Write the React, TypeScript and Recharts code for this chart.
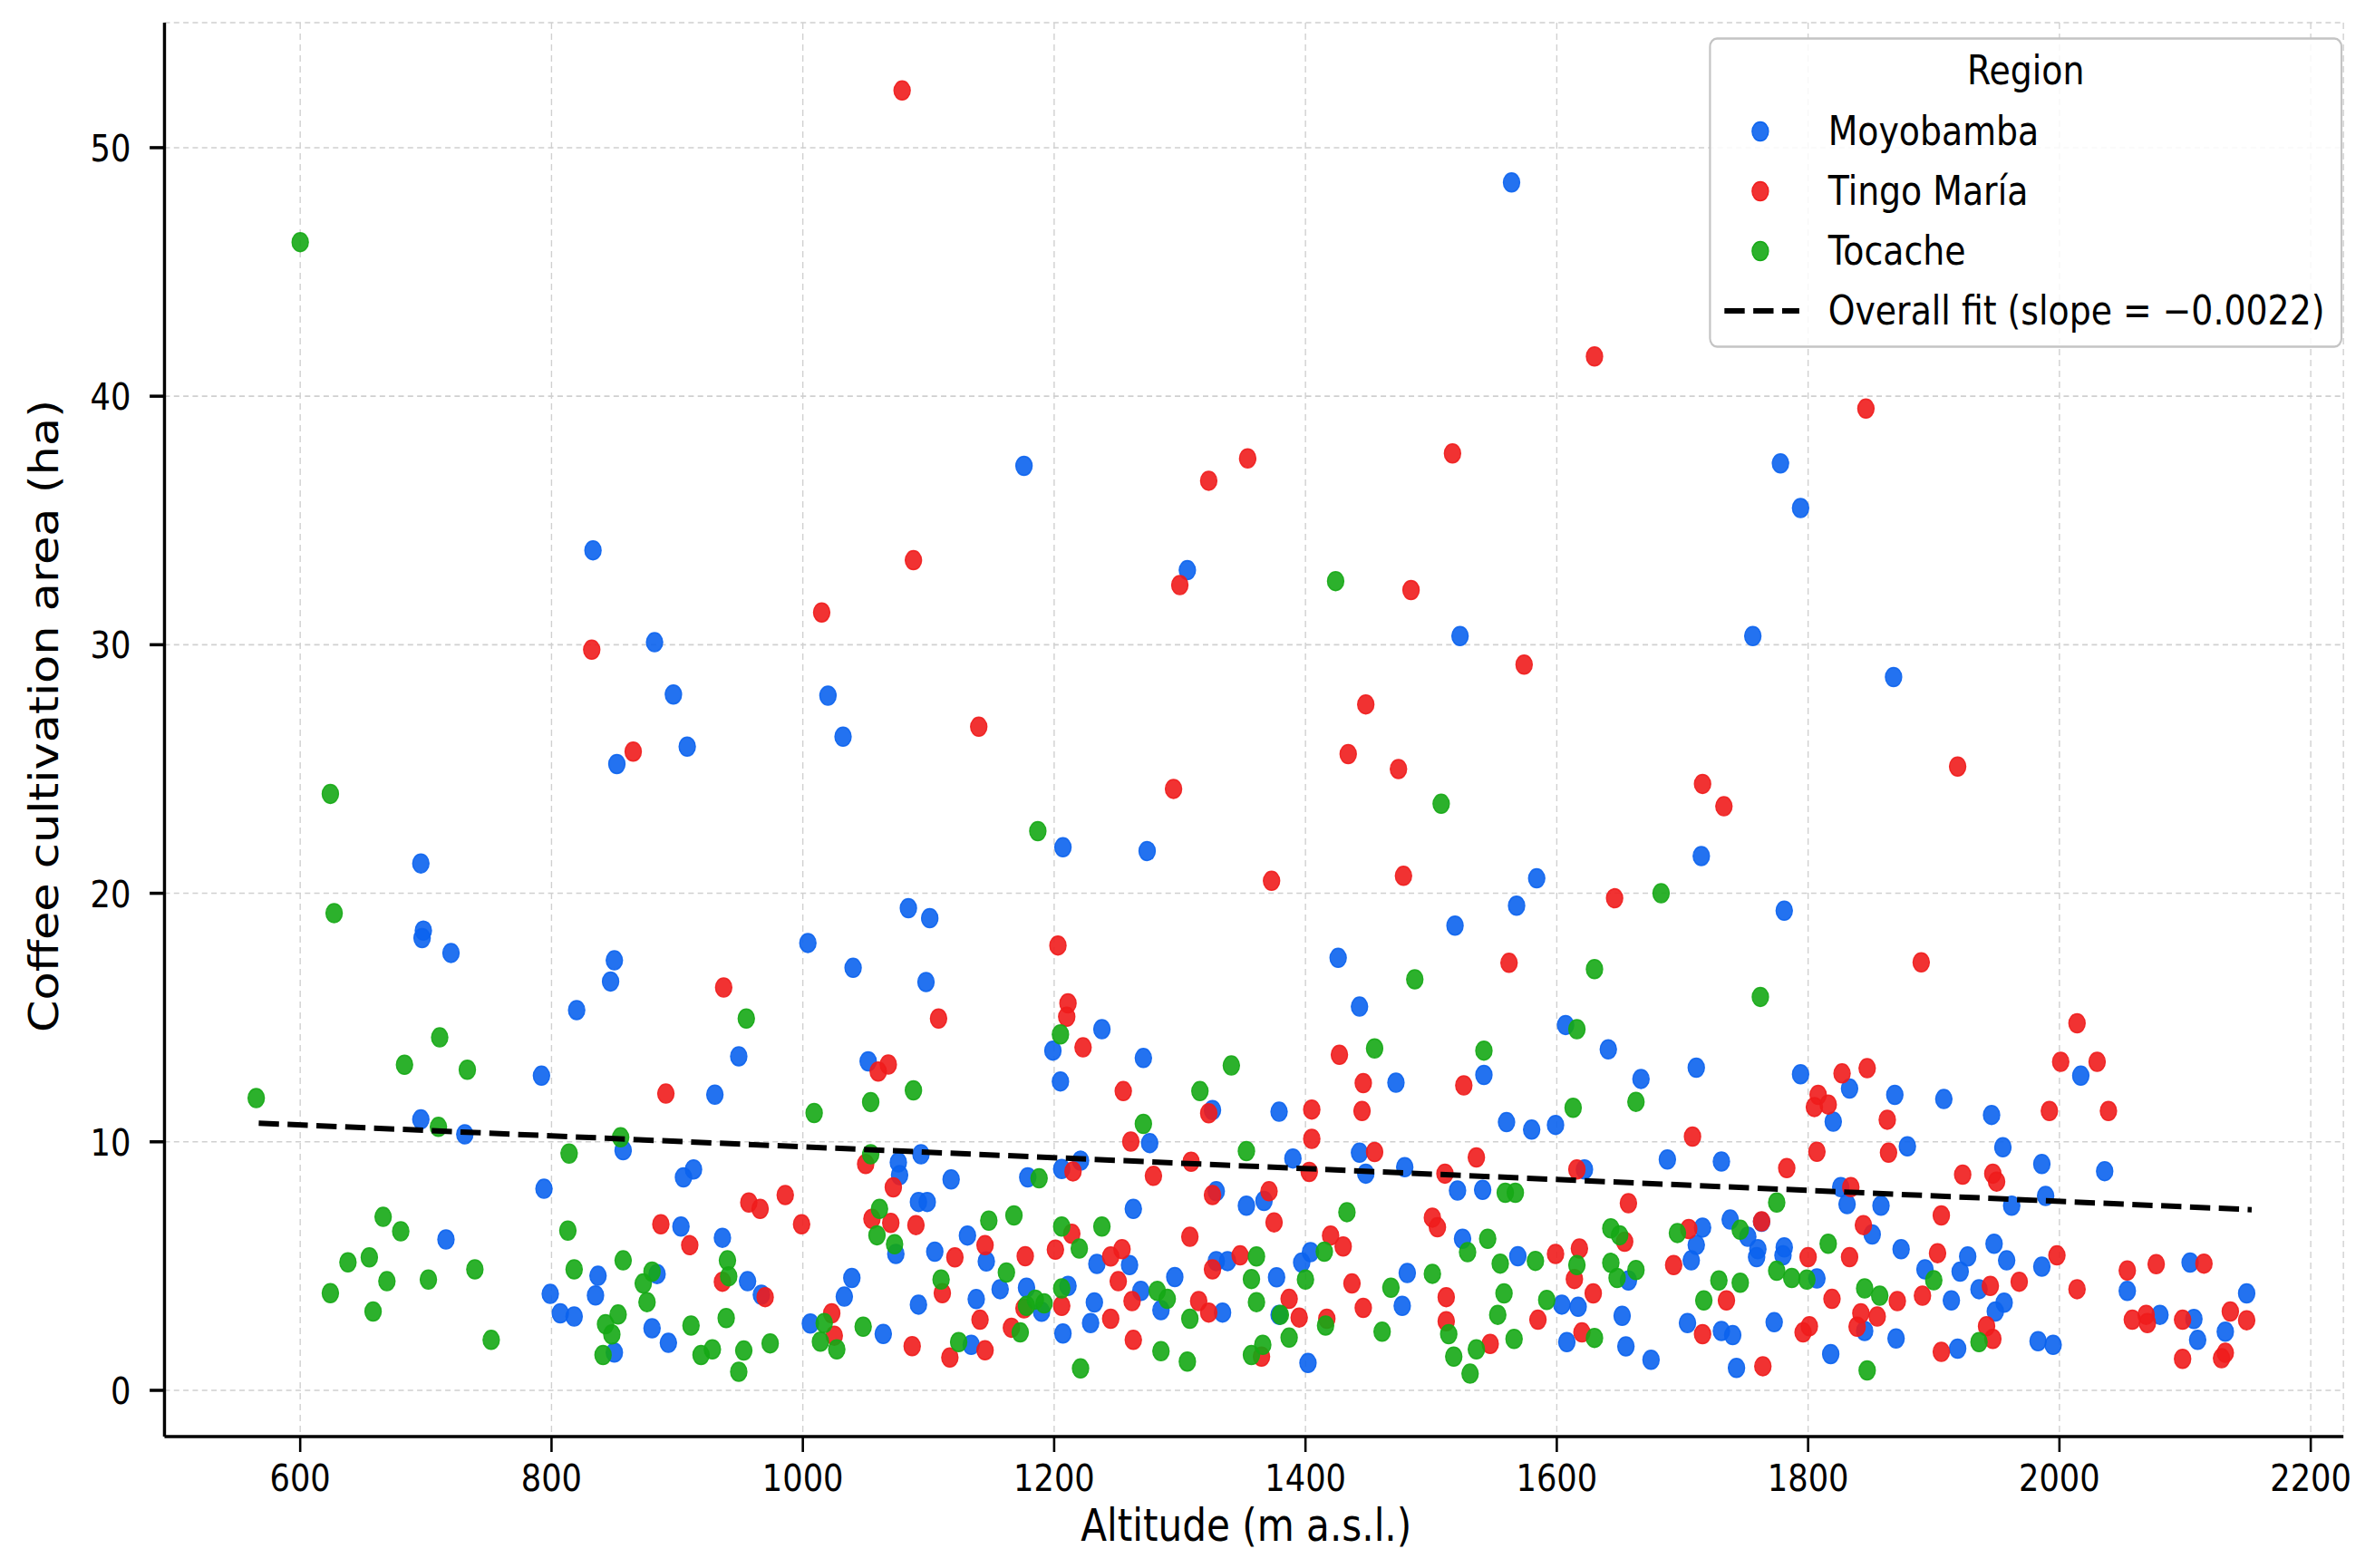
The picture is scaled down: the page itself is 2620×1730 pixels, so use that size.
import React from "react";
import { ScatterChart, Scatter, XAxis, YAxis, CartesianGrid, Legend } from "recharts";

// Altitude vs coffee cultivation area, three regions + an overall OLS fit.
// The reference is a matplotlib figure that was squeezed horizontally, so the
// chart is laid out at full width and then compressed with scaleX(SQUEEZE).

const X_TICKS = [600, 800, 1000, 1200, 1400, 1600, 1800, 2000, 2200];
const Y_TICKS = [0, 10, 20, 30, 40, 50];
const X_DOMAIN: [number, number] = [492, 2226];
const Y_DOMAIN: [number, number] = [-1.86, 55.03];

// [altitude m a.s.l., area ha]
const MOYOBAMBA: [number, number][] = [
  [1564, 48.6], [1176, 37.2], [1778, 37.3], [1794, 35.5], [833, 33.8], [1306, 33.0], [882, 30.1],
  [1523, 30.35], [1756, 30.35], [897, 28.0], [1020, 27.95], [1868, 28.7], [908, 25.9], [852, 25.2],
  [1032, 26.3], [1207, 21.85], [1274, 21.7], [1715, 21.5], [696, 21.2], [1584, 20.6], [1568, 19.5],
  [1084, 19.4], [1101, 19.0], [1781, 19.3], [1519, 18.7], [698, 18.5], [697, 18.2], [720, 17.6],
  [1004, 18.0], [696, 10.9], [731, 10.3], [716, 6.07],
  [850, 17.3], [847, 16.45], [820, 15.3], [949, 13.44], [792, 12.66], [930, 11.9], [1040, 17.0],
  [1098, 16.43], [1052, 13.24], [857, 9.66], [913, 8.89], [905, 8.57], [794, 8.11], [1076, 9.17],
  [1077, 8.66], [1094, 9.5], [1118, 8.49], [1092, 7.58], [1099, 7.58], [903, 6.59], [936, 6.14],
  [1074, 5.49], [837, 4.61], [884, 4.68], [799, 3.88], [835, 3.82], [807, 3.1], [818, 2.97],
  [880, 2.5], [893, 1.91], [850, 1.52], [956, 4.39], [967, 3.85], [1039, 4.52], [1033, 3.77],
  [1006, 2.69], [1064, 2.27], [1105, 5.58], [1131, 6.23], [1146, 5.19], [1179, 8.57], [1092, 3.45],
  [1138, 3.67], [1157, 4.07], [1178, 4.13], [1134, 1.83], [1190, 3.16],
  [1199, 13.67], [1238, 14.53], [1271, 13.37], [1205, 12.43], [1326, 11.28], [1379, 11.21],
  [1276, 9.95], [1390, 9.33], [1206, 8.91], [1221, 9.24], [1329, 8.01], [1353, 7.43], [1367, 7.62],
  [1263, 7.3], [1234, 5.09], [1260, 5.04], [1329, 5.2], [1338, 5.2], [1397, 5.14], [1404, 5.56],
  [1296, 4.56], [1377, 4.55], [1211, 4.2], [1232, 3.54], [1269, 4.0], [1285, 3.23], [1334, 3.13],
  [1379, 3.04], [1229, 2.71], [1207, 2.29], [1402, 1.1], [1426, 17.4], [1443, 15.44], [1472, 12.38],
  [1542, 12.69], [1560, 10.79], [1580, 10.49], [1443, 9.56], [1448, 8.72], [1479, 8.98], [1521, 8.04],
  [1541, 8.07], [1525, 6.1], [1569, 5.4], [1481, 4.72], [1477, 3.4],
  [1607, 14.7], [1641, 13.72], [1711, 12.98], [1667, 12.53], [1599, 10.68], [1794, 12.72],
  [1833, 12.14], [1820, 10.81], [1869, 11.89], [1908, 11.72], [1946, 11.08], [1879, 9.82],
  [1955, 9.78], [1986, 9.11], [1688, 9.29], [1731, 9.21], [1622, 8.89], [1826, 8.18], [1831, 7.49],
  [1858, 7.43], [1989, 7.82], [1962, 7.43], [1851, 6.27], [1657, 4.42], [1604, 3.45], [1617, 3.36],
  [1608, 1.94], [1652, 3.0], [1655, 1.77], [1675, 1.23], [1716, 6.55], [1711, 5.85], [1707, 5.23],
  [1738, 6.87], [1763, 6.78], [1752, 6.18], [1760, 5.68], [1759, 5.36], [1781, 5.75], [1780, 5.43],
  [1807, 4.5], [1704, 2.71], [1731, 2.39], [1740, 2.22], [1773, 2.74], [1743, 0.9], [1818, 1.46],
  [1845, 2.39], [1870, 2.09], [1874, 5.68], [1893, 4.87], [1914, 3.62], [1927, 5.39], [1921, 4.78],
  [1948, 5.9], [1958, 5.23], [1936, 4.07], [1956, 3.53], [1949, 3.17], [1919, 1.68], [1983, 1.98],
  [1986, 4.98],
  [2017, 12.66], [2036, 8.82], [1995, 1.83], [2054, 4.0], [2104, 5.14], [2149, 3.9], [2080, 3.04],
  [2107, 2.87], [2110, 2.03], [2132, 2.36],
];

const TINGO_MARIA: [number, number][] = [
  [1079, 52.3], [1630, 41.6], [1846, 39.5], [1354, 37.5], [1517, 37.7], [1323, 36.6], [1088, 33.4],
  [1300, 32.4], [1015, 31.3], [832, 29.8], [1484, 32.2], [1574, 29.2], [1140, 26.7], [865, 25.7],
  [1295, 24.2], [1448, 27.6], [1434, 25.6], [1474, 25.0], [1919, 25.1], [1716, 24.4], [1733, 23.5],
  [1373, 20.5], [1478, 20.7], [1646, 19.8], [1203, 17.9],
  [937, 16.21], [891, 11.94], [1108, 14.96], [1068, 13.11], [1060, 12.83], [1050, 9.11], [1072, 8.17],
  [957, 7.56], [966, 7.3], [986, 7.86], [999, 6.68], [887, 6.68], [910, 5.84], [1055, 6.9], [1070, 6.74],
  [1090, 6.65], [936, 4.37], [970, 3.75], [1023, 3.1], [1025, 2.2], [1121, 5.35], [1145, 5.84],
  [1111, 3.91], [1141, 2.84], [1177, 5.4], [1087, 1.78], [1117, 1.32], [1145, 1.61], [1166, 2.52],
  [1176, 3.3],
  [1211, 15.57], [1210, 15.03], [1223, 13.8], [1255, 12.04], [1323, 11.15], [1261, 10.01], [1309, 9.2],
  [1215, 8.81], [1279, 8.63], [1326, 7.86], [1371, 8.01], [1375, 6.76], [1214, 6.3], [1201, 5.66],
  [1245, 5.39], [1254, 5.68], [1308, 6.18], [1326, 4.87], [1348, 5.43], [1251, 4.39], [1206, 3.4],
  [1262, 3.59], [1315, 3.59], [1323, 3.13], [1387, 3.68], [1395, 2.93], [1245, 2.88], [1263, 2.03],
  [1365, 1.36], [1417, 2.88], [1405, 11.3], [1405, 10.12], [1403, 8.79], [1562, 17.2], [1427, 13.5],
  [1446, 12.36], [1445, 11.24], [1526, 12.27], [1455, 9.59], [1511, 8.72], [1536, 9.37], [1501, 6.95],
  [1505, 6.56], [1420, 6.23], [1430, 5.79], [1437, 4.3], [1446, 3.32], [1512, 3.75], [1512, 2.78],
  [1547, 1.87],
  [1890, 17.22], [1708, 10.21], [1827, 12.75], [1847, 12.96], [1808, 11.89], [1805, 11.4],
  [1816, 11.5], [1863, 10.89], [1807, 9.6], [1864, 9.56], [1616, 8.89], [1783, 8.94], [1923, 8.68],
  [1947, 8.72], [1950, 8.4], [1834, 8.18], [1657, 7.53], [1906, 7.04], [1844, 6.65], [1654, 5.98],
  [1599, 5.49], [1618, 5.71], [1614, 4.48], [1629, 3.9], [1585, 2.84], [1620, 2.33], [1693, 5.04],
  [1705, 6.49], [1763, 6.8], [1735, 3.62], [1716, 2.26], [1796, 2.33], [1801, 2.58], [1764, 0.97],
  [1800, 5.36], [1833, 5.36], [1819, 3.68], [1871, 3.59], [1842, 3.1], [1855, 2.97], [1839, 2.56],
  [1903, 5.52], [1891, 3.81], [1945, 4.2], [1968, 4.37], [1942, 2.58], [1947, 2.07], [1906, 1.55],
  [2014, 14.77], [2001, 13.22], [2030, 13.22], [1992, 11.24], [2039, 11.24], [1998, 5.43],
  [2014, 4.07], [2054, 4.82], [2077, 5.08], [2115, 5.1], [2058, 2.84], [2069, 3.04], [2070, 2.71],
  [2098, 2.84], [2136, 3.17], [2149, 2.82], [2098, 1.27], [2132, 1.51], [2129, 1.29],
];

const TOCACHE: [number, number][] = [
  [600, 46.2], [1424, 32.56], [1508, 23.6], [1187, 22.5], [624, 24.0], [627, 19.2], [1683, 20.0],
  [565, 11.76], [711, 14.2], [683, 13.1], [733, 12.9], [710, 10.6], [666, 6.98], [680, 6.4],
  [638, 5.15], [655, 5.35], [669, 4.39], [702, 4.46], [739, 4.87], [624, 3.91], [658, 3.17], [752, 2.03],
  [955, 14.96], [1088, 12.07], [1054, 11.6], [1009, 11.16], [855, 10.18], [814, 9.53], [1054, 9.5],
  [813, 6.43], [1061, 7.3], [1059, 6.24], [1073, 5.88], [818, 4.87], [857, 5.23], [880, 4.78],
  [873, 4.3], [876, 3.55], [853, 3.05], [843, 2.66], [848, 2.25], [841, 1.42], [940, 5.23], [941, 4.59],
  [911, 2.61], [939, 2.91], [919, 1.42], [928, 1.65], [953, 1.6], [974, 1.89], [949, 0.75], [1017, 2.71],
  [1014, 1.96], [1027, 1.65], [1048, 2.56], [1148, 6.83], [1168, 7.04], [1110, 4.46], [1162, 4.74],
  [1124, 1.94], [1173, 2.33], [1178, 3.4], [1185, 3.65], [1192, 3.5],
  [1205, 14.32], [1341, 13.07], [1316, 12.04], [1271, 10.72], [1353, 9.63], [1188, 8.53], [1206, 6.59],
  [1238, 6.59], [1220, 5.71], [1361, 5.39], [1357, 4.48], [1400, 4.46], [1206, 4.1], [1282, 4.0],
  [1290, 3.68], [1361, 3.55], [1380, 3.04], [1308, 2.88], [1285, 1.58], [1306, 1.16], [1221, 0.88],
  [1357, 1.42], [1366, 1.83], [1387, 2.12], [1416, 2.61], [1487, 16.54], [1455, 13.76], [1542, 13.67],
  [1559, 7.95], [1567, 7.95], [1433, 7.17], [1415, 5.58], [1545, 6.1], [1529, 5.56], [1555, 5.1],
  [1468, 4.13], [1501, 4.69], [1558, 3.9], [1553, 3.04], [1514, 2.26], [1461, 2.36], [1536, 1.65],
  [1566, 2.07], [1518, 1.36], [1531, 0.67],
  [1630, 16.95], [1762, 15.83], [1616, 14.53], [1613, 11.37], [1663, 11.61], [1775, 7.56], [1643, 6.52],
  [1650, 6.24], [1583, 5.21], [1616, 5.04], [1643, 5.13], [1648, 4.52], [1663, 4.84], [1592, 3.64],
  [1630, 2.11], [1696, 6.33], [1746, 6.46], [1729, 4.42], [1746, 4.33], [1717, 3.62], [1775, 4.81],
  [1787, 4.52], [1799, 4.46], [1816, 5.9], [1845, 4.1], [1857, 3.81], [1847, 0.8], [1900, 4.43],
  [1936, 1.94],
];

// endpoints of the dashed overall fit, as drawn
const FIT_LINE: [number, number][] = [[567, 10.75], [2153, 7.27]];
const FIT_LABEL = "Overall fit (slope = \u22120.0022)";

const SERIES = [
  { name: "Moyobamba", color: "#0b63ee", points: MOYOBAMBA },
  { name: "Tingo María", color: "#f01c1c", points: TINGO_MARIA },
  { name: "Tocache", color: "#15a815", points: TOCACHE },
];

const FONT = "DejaVu Sans";
const SQUEEZE = 0.86;
const W = 3047;
const H = 1730;
const PLOT = { left: 211, right: 3006, top: 25, bottom: 1585 };
const DOT_R = 10.5;
const FIT_STROKE = { stroke: "#000", strokeWidth: 6, strokeDasharray: "26 11" };

const toRows = (pts: [number, number][]) => pts.map(([x, y]) => ({ x, y }));

const makeDot = (color: string) => (props: any) => (
  <circle
    cx={props.cx}
    cy={props.cy}
    r={DOT_R}
    fill={color}
    fillOpacity={0.9}
    stroke={color}
    strokeOpacity={0.9}
    strokeWidth={1.5}
  />
);

const XTick = ({ x, y, payload }: any) => (
  <text x={x} y={y} dy={41} textAnchor="middle" fontSize={41} fontFamily={FONT} fill="#000">
    {payload.value}
  </text>
);

const YTick = ({ x, y, payload }: any) => (
  <text x={x} y={y} dx={-22} dy={15} textAnchor="end" fontSize={41} fontFamily={FONT} fill="#000">
    {payload.value}
  </text>
);

const XTitle = () => (
  <text
    x={(PLOT.left + PLOT.right) / 2 - 10}
    y={1700}
    textAnchor="middle"
    fontSize={49}
    fontFamily={FONT}
    fill="#000"
  >
    Altitude (m a.s.l.)
  </text>
);

const YTitle = () => {
  const cx = 56;
  const cy = 790;
  return (
    <text
      x={cx}
      y={cy}
      dy={18}
      transform={`rotate(-90 ${cx} ${cy})`}
      textAnchor="middle"
      fontSize={51}
      fontFamily={FONT}
      fill="#000"
    >
      Coffee cultivation area (ha)
    </text>
  );
};

const LEGEND_BOX = { left: 2192, top: 41, width: 813, height: 343 };
const LEGEND_ROWS = [104, 170, 236, 302];

const renderLegend = () => (
  <svg width={LEGEND_BOX.width} height={LEGEND_BOX.height} style={{ display: "block", overflow: "visible" }}>
    <rect
      x={1.5}
      y={1.5}
      width={LEGEND_BOX.width - 3}
      height={LEGEND_BOX.height - 3}
      rx={9}
      fill="#fff"
      fillOpacity={0.85}
      stroke="#c4c4c4"
      strokeWidth={2.5}
    />
    <text x={LEGEND_BOX.width / 2} y={52} textAnchor="middle" fontSize={44} fontFamily={FONT} fill="#000">
      Region
    </text>
    {SERIES.map((s, i) => (
      <g key={s.name}>
        <circle cx={66} cy={LEGEND_ROWS[i]} r={DOT_R} fill={s.color} fillOpacity={0.9} stroke={s.color} strokeWidth={1.5} />
        <text x={153} y={LEGEND_ROWS[i] + 15} fontSize={44} fontFamily={FONT} fill="#000">
          {s.name}
        </text>
      </g>
    ))}
    <line x1={20} x2={116} y1={LEGEND_ROWS[3]} y2={LEGEND_ROWS[3]} {...FIT_STROKE} />
    <text x={153} y={LEGEND_ROWS[3] + 15} fontSize={44} fontFamily={FONT} fill="#000">
      {FIT_LABEL}
    </text>
  </svg>
);

export default function App() {
  const yAxisWidth = 150;
  const xAxisHeight = 100;
  return (
    <div style={{ position: "absolute", left: 0, top: 0, width: 2620, height: H, overflow: "hidden", background: "#fff" }}>
      <div style={{ width: W, height: H, transform: `scaleX(${SQUEEZE})`, transformOrigin: "0 0" }}>
        <ScatterChart
          width={W}
          height={H}
          margin={{
            top: PLOT.top,
            right: W - PLOT.right,
            bottom: H - PLOT.bottom - xAxisHeight,
            left: PLOT.left - yAxisWidth,
          }}
        >
          <CartesianGrid stroke="#d0d0d0" strokeWidth={1.6} strokeDasharray="7 5" />
          <XAxis
            type="number"
            dataKey="x"
            domain={X_DOMAIN}
            ticks={X_TICKS}
            interval={0}
            height={xAxisHeight}
            tickSize={17}
            axisLine={{ stroke: "#000", strokeWidth: 3.5 }}
            tickLine={{ stroke: "#000", strokeWidth: 3 }}
            tick={<XTick />}
            label={<XTitle />}
          />
          <YAxis
            type="number"
            dataKey="y"
            domain={Y_DOMAIN}
            ticks={Y_TICKS}
            interval={0}
            width={yAxisWidth}
            tickSize={19}
            axisLine={{ stroke: "#000", strokeWidth: 4 }}
            tickLine={{ stroke: "#000", strokeWidth: 3.5 }}
            tick={<YTick />}
            label={<YTitle />}
          />
          {SERIES.map((s) => (
            <Scatter
              key={s.name}
              name={s.name}
              data={toRows(s.points)}
              fill={s.color}
              shape={makeDot(s.color)}
              isAnimationActive={false}
            />
          ))}
          <Scatter
            name="fit"
            data={toRows(FIT_LINE)}
            fill="#000"
            line={FIT_STROKE}
            shape={() => <g />}
            isAnimationActive={false}
          />
          <Legend
            content={renderLegend}
            layout="vertical"
            align="center"
            verticalAlign="middle"
            wrapperStyle={{
              position: "absolute",
              left: LEGEND_BOX.left,
              top: LEGEND_BOX.top,
              width: LEGEND_BOX.width,
              height: LEGEND_BOX.height,
            }}
          />
        </ScatterChart>
      </div>
    </div>
  );
}
